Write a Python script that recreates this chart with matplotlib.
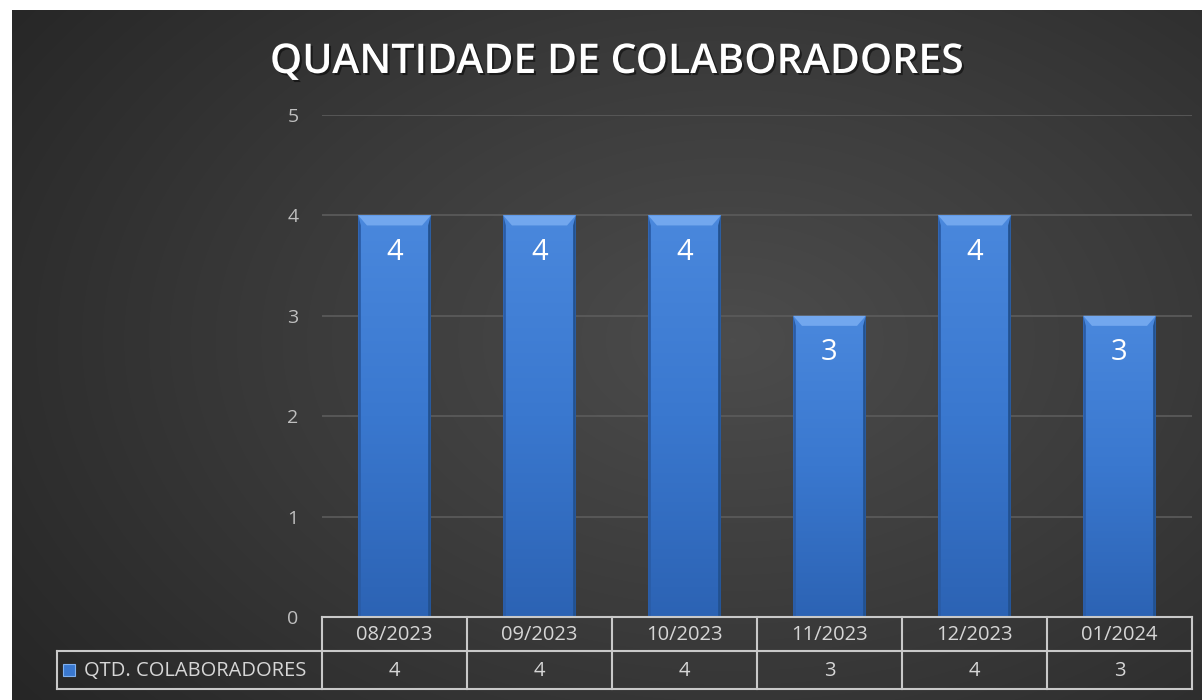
import numpy as np
import matplotlib
matplotlib.use('Agg')
import matplotlib.pyplot as plt
import matplotlib.patheffects as pe
from matplotlib.colors import LinearSegmentedColormap
from matplotlib.patches import Polygon, Rectangle

months = ['08/2023', '09/2023', '10/2023', '11/2023', '12/2023', '01/2024']
colaboradores = [4, 4, 4, 3, 4, 3]
series_name = 'QTD. COLABORADORES'
title = 'QUANTIDADE DE COLABORADORES'

W, H = 1202, 700
fig = plt.figure(figsize=(W / 100, H / 100), dpi=100)
fig.patch.set_facecolor('white')

# radial dark background
bg = fig.add_axes([12 / W, 0, (W - 12) / W, (H - 10) / H], zorder=0)
yy, xx = np.mgrid[0:690, 0:1190]
r = np.sqrt(((xx - 720) / 900.0) ** 2 + ((yy - 330) / 600.0) ** 2)
r = np.clip(r, 0, 1)
bg_cmap = LinearSegmentedColormap.from_list('bg', ['#4c4c4c', '#3a3a3a', '#262626'])
bg.imshow(r, cmap=bg_cmap, aspect='auto', vmin=0, vmax=1)
bg.axis('off')

# main plot area
x0, x1, ytop, ybot = 322, 1192, 115, 617
ax = fig.add_axes([x0 / W, 1 - ybot / H, (x1 - x0) / W, (ybot - ytop) / H], zorder=1)
ax.patch.set_alpha(0)
x = np.arange(len(months))
for s in ax.spines.values():
    s.set_visible(False)
ax.set_yticks(range(0, 6))
ax.tick_params(axis='y', length=0, pad=17, labelcolor='#bfbfbf', labelsize=14)
ax.set_xticks([])
for v in range(1, 6):
    ax.axhline(v, color='#5c5c5c', lw=1.2, zorder=1)
for lab in ax.get_yticklabels():
    lab.set_fontfamily('Open Sans')

bar_cmap = LinearSegmentedColormap.from_list('bar', ['#2c63b4', '#3a78cf', '#4a88dd'])
bw = 0.5
bars = ax.bar(x, colaboradores, width=bw, color='none', zorder=2)
grad = np.linspace(0, 1, 256).reshape(-1, 1)
for b in bars:
    bx = b.get_x()
    h = b.get_height()
    im = ax.imshow(grad, cmap=bar_cmap, origin='lower', aspect='auto',
                   extent=[bx, bx + bw, 0, h], zorder=2)
    clip = Rectangle((bx, 0), bw, h, transform=ax.transData)
    im.set_clip_path(clip)
    # bevel on top and sides
    dx, dy = 0.06, 0.1
    ax.add_patch(Polygon([[bx, h], [bx + bw, h], [bx + bw - dx, h - dy], [bx + dx, h - dy]],
                         closed=True, facecolor='#72a7ee', edgecolor='none', zorder=3))
    ax.add_patch(Polygon([[bx, 0], [bx, h], [bx + dx * 0.3, h - dy], [bx + dx * 0.3, 0]],
                         closed=True, facecolor='#2a5ca6', edgecolor='none', zorder=3))
    ax.add_patch(Polygon([[bx + bw, 0], [bx + bw, h], [bx + bw - dx * 0.3, h - dy], [bx + bw - dx * 0.3, 0]],
                         closed=True, facecolor='#22518f', edgecolor='none', zorder=3))
    ax.text(bx + bw / 2, h - 0.37, str(int(h)), ha='center', va='center',
            color='white', fontsize=21, family='Open Sans', zorder=4)
ax.set_xlim(-0.5, len(months) - 0.5)
ax.set_ylim(0, 5)

# data table under the axis
tab = fig.add_axes([0, 0, 1, 1], zorder=2)
tab.set_xlim(0, W)
tab.set_ylim(H, 0)
tab.axis('off')
tab.patch.set_alpha(0)
line_c = '#c9c9c9'
lw = 1.5
r0, r1, r2 = 617, 651, 689
lx = 57
col_edges = np.linspace(x0, x1, len(months) + 1)
tab.plot([x0, x1], [r0, r0], color=line_c, lw=lw)
tab.plot([lx, x1], [r1, r1], color=line_c, lw=lw)
tab.plot([lx, x1], [r2, r2], color=line_c, lw=lw)
tab.plot([lx, lx], [r1, r2], color=line_c, lw=lw)
for ce in col_edges:
    tab.plot([ce, ce], [r0, r2], color=line_c, lw=lw)
txt_c = '#d6d6d6'
for i, m in enumerate(months):
    cx = (col_edges[i] + col_edges[i + 1]) / 2
    tab.text(cx, (r0 + r1) / 2 + 1, m, ha='center', va='center', color=txt_c,
             fontsize=14.5, family='Open Sans')
    tab.text(cx, (r1 + r2) / 2 + 1, str(colaboradores[i]), ha='center', va='center',
             color=txt_c, fontsize=14.5, family='Open Sans')
tab.add_patch(Rectangle((63, 664), 12, 12, facecolor='#3a78cf', edgecolor='#7fb0f0', lw=0.8))
tab.text(84, (r1 + r2) / 2 + 1, series_name, ha='left', va='center', color=txt_c,
         fontsize=14.5, family='Open Sans')

# title
fig.text(617 / W, 1 - 62 / H, title, ha='center', va='center', color='white',
         fontsize=29.5, fontweight='semibold', family='Open Sans',
         path_effects=[pe.withSimplePatchShadow(offset=(1.5, -1.5), shadow_rgbFace='black', alpha=0.5)])

fig.savefig('out.png', dpi=100)
